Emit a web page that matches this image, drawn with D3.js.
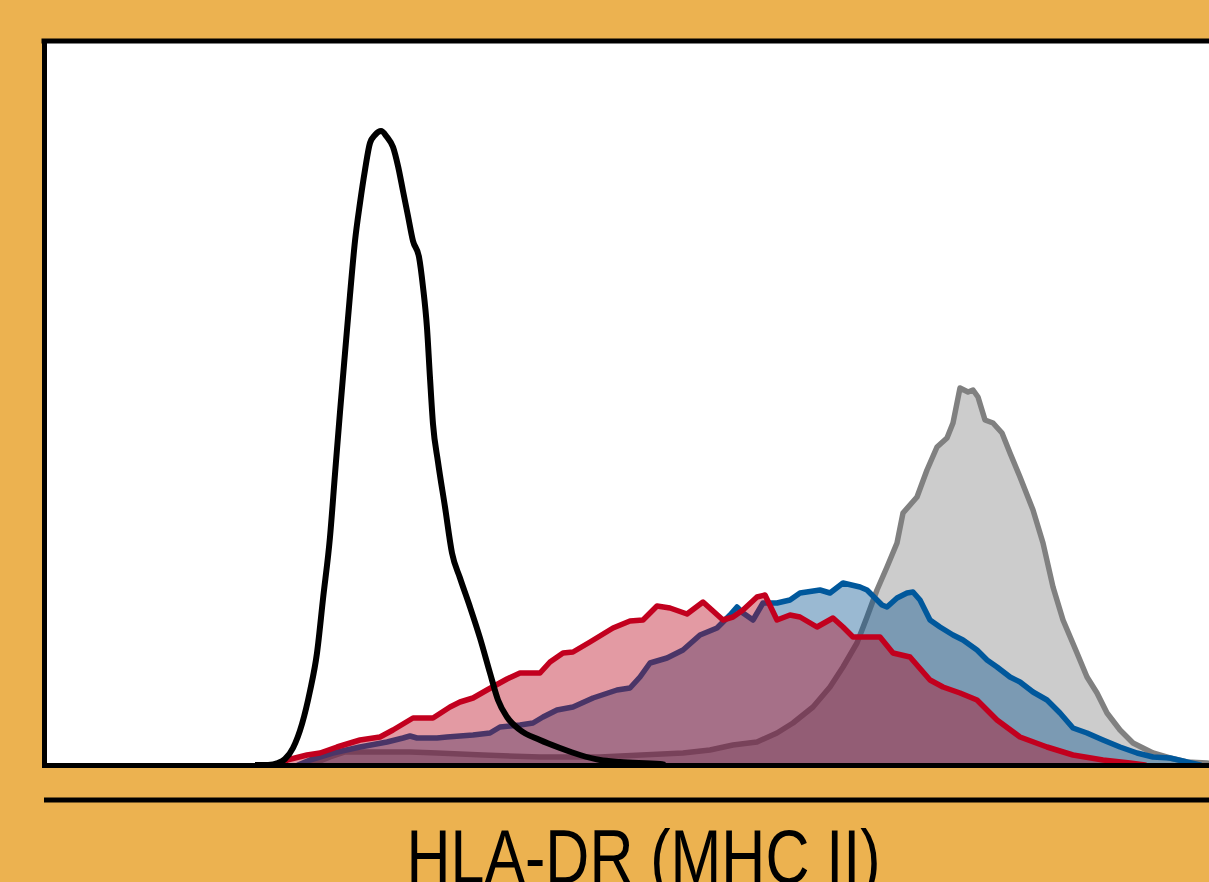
<!DOCTYPE html>
<html>
<head>
<meta charset="utf-8">
<script src="https://cdn.jsdelivr.net/npm/d3@7"></script>
<style>
  html, body { margin: 0; padding: 0; background: #ECB250; overflow: hidden; }
  svg { display: block; }
</style>
</head>
<body>
<svg id="chart" width="1209" height="882"></svg>
<script>
// Flow cytometry overlay: HLA-DR (MHC II) expression.
// Each histogram is a list of [channel, count] points.
const isotype = [
  [211,0],[224,0],[234,2],[241,6],[249,17],[258,41],[266,74],[273,112],[279,166],
  [286,228],[291,291],[296,353],[301,412],[306,470],[311,524],[316,562],[321,595],
  [326,622],[331,630],[337,634],[343,628],[349,618],[354,599],[359,574],[364,549],
  [369,524],[375,508],[379,478],[383,437],[386,387],[389,341],[394,303],[401,258],
  [408,212],[416,187],[426,158],[436,127],[446,92],[454,65],[463,48],[476,35],
  [496,25],[516,17],[536,10],[556,5],[576,3],[616,1],[621,0]
];

const grayHist = [
  [266,0],[286,8],[301,13],[366,13],[393,12],[439,10],[496,8],[556,8],[639,12],
  [666,15],[689,20],[713,23],[733,32],[749,42],[769,58],[786,78],[799,98],[813,122],
  [823,148],[833,175],[843,198],[853,222],[859,252],[873,268],[883,295],[893,318],
  [903,327],[909,342],[916,377],[924,373],[929,375],[934,368],[941,345],[949,342],
  [958,332],[966,312],[976,288],[989,255],[999,222],[1009,178],[1019,145],[1033,112],
  [1043,88],[1053,72],[1063,52],[1076,35],[1089,22],[1109,12],[1126,7],[1143,3],
  [1163,2],[1186,0]
];

const blueHist = [
  [254,0],[266,5],[289,12],[316,18],[343,23],[359,27],[366,29],[373,27],[393,27],
  [403,28],[429,30],[446,32],[456,38],[476,40],[489,42],[499,48],[513,55],[529,58],
  [549,67],[573,75],[586,77],[596,88],[606,102],[623,107],[639,115],[656,130],
  [673,137],[686,150],[693,158],[699,152],[709,145],[719,162],[733,162],[746,165],
  [756,172],[776,175],[786,172],[799,182],[816,178],[823,175],[838,160],[843,158],
  [853,167],[863,172],[869,173],[876,165],[886,145],[896,138],[909,130],[919,125],
  [933,115],[943,105],[953,98],[966,88],[976,83],[989,73],[1003,65],[1016,52],
  [1029,37],[1043,32],[1059,25],[1076,18],[1093,12],[1109,8],[1126,7],[1143,3],
  [1156,0]
];

const redHist = [
  [239,0],[243,5],[263,10],[276,12],[293,18],[316,25],[336,28],[349,35],[369,47],
  [389,47],[406,58],[416,63],[429,67],[443,75],[463,86],[476,92],[496,92],[506,103],
  [519,112],[529,113],[546,123],[569,137],[586,144],[599,145],[613,159],[626,157],
  [643,151],[659,163],[679,145],[689,148],[699,155],[713,168],[721,170],[733,145],
  [746,150],[756,148],[773,138],[789,147],[799,138],[809,128],[836,128],[849,112],
  [866,108],[886,85],[899,78],[916,72],[933,65],[953,45],[976,28],[1003,18],
  [1029,10],[1059,5],[1086,2],[1101,0]
];

const xDomain = [0, 1200];
const yDomain = [0, 724];
const axisTitle = "HLA-DR (MHC II)";

// Layout
const plotLeft = 44, plotTop = 41, plotBottom = 765, plotRight = 1244;

const svg = d3.select("#chart");

svg.append("rect")
  .attr("x", 0).attr("y", 0).attr("width", 1209).attr("height", 882)
  .attr("fill", "#ECB250");

svg.append("rect")
  .attr("x", plotLeft).attr("y", plotTop)
  .attr("width", plotRight - plotLeft).attr("height", plotBottom - plotTop)
  .attr("fill", "#ffffff");

const x = d3.scaleLinear().domain(xDomain).range([plotLeft, plotRight]);
const y = d3.scaleLinear().domain(yDomain).range([plotBottom, plotTop]);

svg.append("clipPath").attr("id", "plotClip")
  .append("rect")
  .attr("x", plotLeft).attr("y", plotTop)
  .attr("width", plotRight - plotLeft).attr("height", plotBottom - plotTop);

const plot = svg.append("g").attr("clip-path", "url(#plotClip)");

const area = d3.area()
  .x(d => x(d[0])).y0(y(0)).y1(d => y(d[1]))
  .curve(d3.curveLinear);
const line = d3.line()
  .x(d => x(d[0])).y(d => y(d[1]))
  .curve(d3.curveLinear);

const filled = [
  { data: grayHist, fill: "#808080", stroke: "#808080" },
  { data: blueHist, fill: "#02508F", stroke: "#00589C" },
  { data: redHist,  fill: "#BA0318", stroke: "#C2001E" }
];

filled.forEach(s => {
  plot.append("path")
    .datum(s.data)
    .attr("d", area)
    .attr("fill", s.fill)
    .attr("fill-opacity", 0.4);
  plot.append("path")
    .datum(s.data)
    .attr("d", line)
    .attr("fill", "none")
    .attr("stroke", s.stroke)
    .attr("stroke-width", 5.5)
    .attr("stroke-linejoin", "round")
    .attr("stroke-linecap", "round");
});

// Control histogram, outline only
plot.append("path")
  .datum(isotype)
  .attr("d", d3.line().x(d => x(d[0])).y(d => y(d[1])).curve(d3.curveMonotoneX))
  .attr("fill", "none")
  .attr("stroke", "#000000")
  .attr("stroke-width", 6)
  .attr("stroke-linejoin", "round");

// Frame: bottom and left axes without ticks, plus top border
const xAxis = svg.append("g")
  .attr("transform", `translate(0,${plotBottom})`)
  .call(d3.axisBottom(x).tickValues([]).tickSizeOuter(0));
const yAxis = svg.append("g")
  .attr("transform", `translate(${plotLeft},0)`)
  .call(d3.axisLeft(y).tickValues([]).tickSizeOuter(0));
[xAxis, yAxis].forEach(g => g.select(".domain")
  .attr("stroke", "#000").attr("stroke-width", 5).attr("stroke-linecap", "square"));

svg.append("line")
  .attr("x1", plotLeft).attr("x2", plotRight)
  .attr("y1", plotTop).attr("y2", plotTop)
  .attr("stroke", "#000").attr("stroke-width", 5).attr("stroke-linecap", "square");

// Separator above the axis title
svg.append("line")
  .attr("x1", plotLeft).attr("x2", 1209)
  .attr("y1", 800).attr("y2", 800)
  .attr("stroke", "#000").attr("stroke-width", 5);

// Axis title, condensed horizontally; it runs off the bottom edge
const fontSize = 76;
const title = svg.append("text")
  .attr("font-family", "'Liberation Sans', Arial, sans-serif")
  .attr("font-size", fontSize)
  .attr("text-anchor", "middle")
  .attr("fill", "#000")
  .text(axisTitle);
const w = title.node().getComputedTextLength();
const sx = 474 / w;
title.attr("transform", `translate(643.5,${829 + 0.716 * fontSize}) scale(${sx},1)`);
</script>
</body>
</html>
